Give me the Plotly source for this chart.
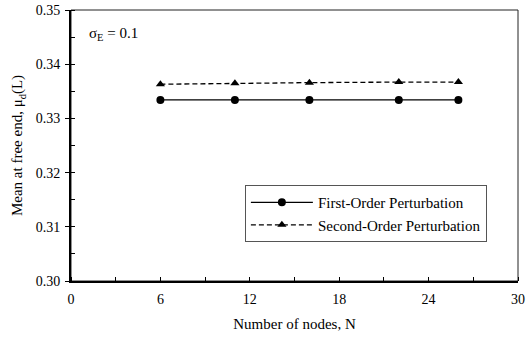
import plotly.graph_objects as go

nodes = [6, 11, 16, 22, 26]
first_order = [0.3334, 0.3334, 0.3334, 0.3334, 0.3334]
second_order = [0.3363, 0.3365, 0.3366, 0.3367, 0.3367]
x_ticks = [0, 6, 12, 18, 24, 30]
y_ticks = [0.30, 0.31, 0.32, 0.33, 0.34, 0.35]

font = "Liberation Serif, Times New Roman, Times, serif"

fig = go.Figure()
fig.add_trace(go.Scatter(
    x=nodes, y=first_order, mode="lines+markers", name="First-Order Perturbation",
    line=dict(color="black", width=1.3),
    marker=dict(symbol="circle", size=8, color="black")))
fig.add_trace(go.Scatter(
    x=nodes, y=second_order, mode="lines+markers", name="Second-Order Perturbation",
    line=dict(color="black", width=1.3, dash="5px,3px"),
    marker=dict(symbol="triangle-up", size=8, color="black")))

fig.update_layout(
    width=526, height=338,
    margin=dict(l=71, r=8, t=10, b=57, autoexpand=False),
    paper_bgcolor="white", plot_bgcolor="white",
    font=dict(family=font, size=14, color="black"),
    showlegend=True,
    legend=dict(x=0.389, y=0.354, xanchor="left", yanchor="top",
                bordercolor="#555", borderwidth=1, bgcolor="white",
                font=dict(family=font, size=15), tracegroupgap=0,
                itemwidth=62, entrywidth=216),
    xaxis=dict(range=[0, 30], tickvals=x_ticks, ticktext=[str(v) for v in x_ticks],
               ticks="", showgrid=False, zeroline=False, automargin=False,
               ticklabeloverflow="allow",
               showline=True, linecolor="black", linewidth=1.5,
               ticklabelstandoff=4,
               tickfont=dict(family=font, size=14),
               minor=dict(dtick=3, ticks="inside", ticklen=4, tickcolor="black", showgrid=False),
               title=dict(text="Number of nodes, N", font=dict(family=font, size=15), standoff=13)),
    yaxis=dict(range=[0.30, 0.35], tickvals=y_ticks, ticktext=[f"{v:.2f}" for v in y_ticks],
               ticks="outside", ticklen=4, tickcolor="black", showgrid=False, zeroline=False,
               automargin=False, tickfont=dict(family=font, size=14),
               ticklabeloverflow="allow",
               ticklabelstandoff=2,
               showline=True, linecolor="black", linewidth=2,
               minor=dict(dtick=0.005, ticks="inside", ticklen=4, tickcolor="black", showgrid=False),
               title=dict(text="Mean at free end, μ<sub>d</sub>(L)", font=dict(family=font, size=15), standoff=9)),
    shapes=[dict(type="rect", xref="paper", yref="paper", x0=0, y0=0, x1=1, y1=1,
                 line=dict(color="#222", width=1), layer="below")],
    annotations=[dict(x=0.035, y=0.912, xref="paper", yref="paper", xanchor="left", yanchor="middle",
                      text="σ<sub>E</sub> = 0.1", showarrow=False, font=dict(family=font, size=15))],
)

fig.write_html("out.html", config={"displayModeBar": False},
               post_script="document.body.style.margin='0';")
